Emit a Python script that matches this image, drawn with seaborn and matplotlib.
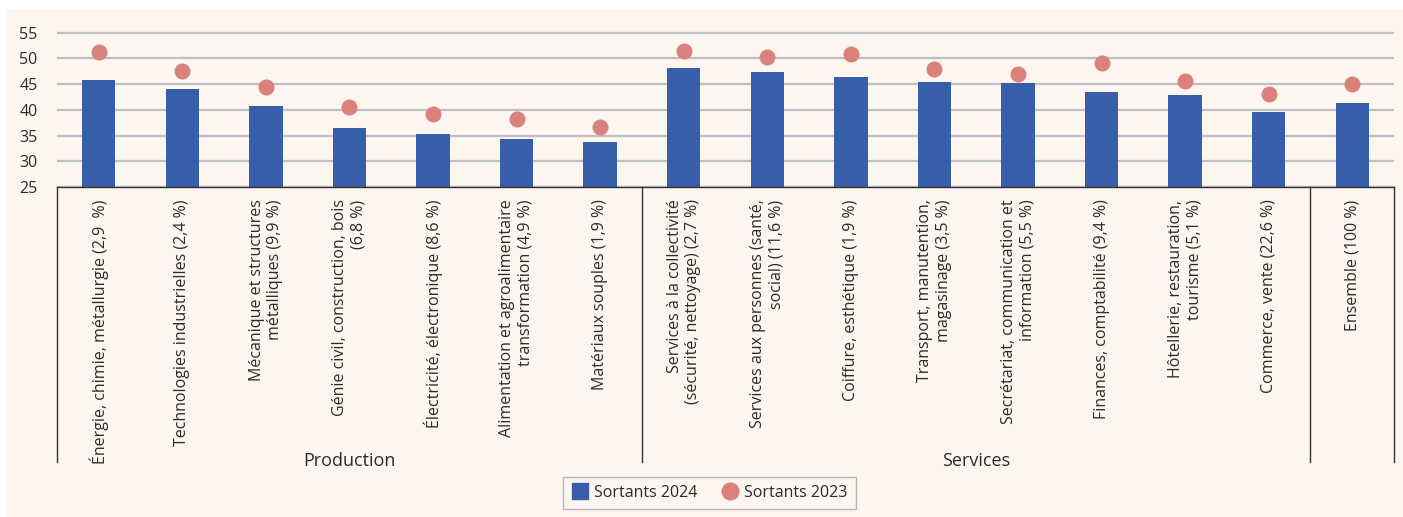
import seaborn as sns
import matplotlib.pyplot as plt
import matplotlib.transforms as mtransforms
from matplotlib.patches import Rectangle
from matplotlib.lines import Line2D

categories = [
    "Énergie, chimie, métallurgie (2,9  %)",
    "Technologies industrielles (2,4 %)",
    "Mécanique et structures\nmétalliques (9,9 %)",
    "Génie civil, construction, bois\n(6,8 %)",
    "Électricité, électronique (8,6 %)",
    "Alimentation et agroalimentaire\ntransformation (4,9 %)",
    "Matériaux souples (1,9 %)",
    "Services à la collectivité\n(sécurité, nettoyage) (2,7 %)",
    "Services aux personnes (santé,\nsocial) (11,6 %)",
    "Coiffure, esthétique (1,9 %)",
    "Transport, manutention,\nmagasinage (3,5 %)",
    "Secrétariat, communication et\ninformation (5,5 %)",
    "Finances, comptabilité (9,4 %)",
    "Hôtellerie, restauration,\ntourisme (5,1 %)",
    "Commerce, vente (22,6 %)",
    "Ensemble (100 %)",
]
sortants_2024 = [45.8, 44.0, 40.7, 36.5, 35.3, 34.3, 33.7,
                 48.2, 47.3, 46.4, 45.4, 45.3, 43.4, 42.8, 39.6, 41.3]
sortants_2023 = [51.2, 47.5, 44.5, 40.6, 39.2, 38.3, 36.7,
                 51.4, 50.3, 50.8, 48.0, 47.0, 49.1, 45.6, 43.1, 45.1]
groups = ["Production", "Services"]

bg = "#FDF5EF"
blue = "#375EA9"
salmon = "#D9817A"
grid_c = "#BEBEC4"
txt = "#2B2B2B"

plt.rcParams["font.family"] = ["Open Sans", "DejaVu Sans"]

fig = plt.figure(figsize=(14.03, 5.17), dpi=100, facecolor="white")
fig.patches.append(Rectangle((6 / 1403, 0), 1, 1 - 9 / 517, transform=fig.transFigure,
                             facecolor=bg, edgecolor="none", zorder=-10))
# 25 at y=187px, 55 at y=32.7px; a bit of headroom above 55
px_per_unit = (187 - 32.7) / 30
top_px = 32.7 - 0.6 * px_per_unit
ax = fig.add_axes([57 / 1403, 1 - 187 / 517, (1394 - 57) / 1403, (187 - top_px) / 517])
ax.set_facecolor(bg)

sns.barplot(x=categories, y=sortants_2024, color=blue, width=0.4, saturation=1,
            ax=ax, zorder=2)
sns.stripplot(x=categories, y=sortants_2023, color=salmon, jitter=False, size=11.5,
              ax=ax, zorder=3)

ax.set_ylim(25, 55.6)
ax.set_xlim(-0.5, len(categories) - 0.5)
ax.set_yticks(range(25, 56, 5))
ax.yaxis.grid(True, color=grid_c, linewidth=1.6, zorder=0)
ax.set_axisbelow(True)
for s in ["top", "right", "left"]:
    ax.spines[s].set_visible(False)
ax.spines["bottom"].set_color("#333333")
ax.spines["bottom"].set_linewidth(1)
ax.tick_params(axis="y", length=0, pad=14, labelsize=11.5, labelcolor=txt)
ax.tick_params(axis="x", length=0, pad=9)
ax.set_xticks(range(len(categories)))
ax.set_xticklabels(categories, rotation=90, va="top", ha="center",
                   multialignment="right", fontsize=11.5, color=txt,
                   linespacing=1.2)
ax.set_ylabel("")

# separators under the axis
trans = mtransforms.blended_transform_factory(ax.transData, ax.transAxes)
ax_h = 187 - top_px
depth = -(462 - 187) / ax_h
for xpos in [-0.5, 6.5, 14.5, 15.5]:
    ax.add_line(Line2D([xpos, xpos], [0, depth], transform=trans, color="#333333",
                       linewidth=1, clip_on=False))
ax.text(3, (187 - 461) / ax_h, groups[0], transform=trans, ha="center",
        va="center", fontsize=13, color=txt)
ax.text(10.5, (187 - 461) / ax_h, groups[1], transform=trans, ha="center",
        va="center", fontsize=13, color=txt)

handles = [
    Line2D([], [], marker="s", linestyle="none", markersize=12, color=blue,
           label="Sortants 2024"),
    Line2D([], [], marker="o", linestyle="none", markersize=12, color=salmon,
           label="Sortants 2023"),
]
leg = fig.legend(handles=handles, loc="center", bbox_to_anchor=(709 / 1403, 1 - 493 / 517),
                 ncol=2, frameon=True, fancybox=False, fontsize=11.5,
                 handletextpad=0.3, columnspacing=1.4, handlelength=1.2,
                 borderpad=0.5)
leg.get_frame().set_edgecolor("#A5A5AA")
leg.get_frame().set_facecolor(bg)
leg.get_frame().set_linewidth(1)
for t in leg.get_texts():
    t.set_color(txt)

fig.savefig("out.png", dpi=100, facecolor=fig.get_facecolor())
